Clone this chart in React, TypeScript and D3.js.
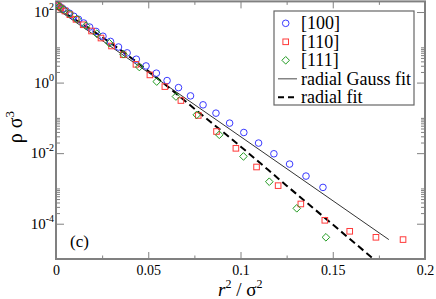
import React, { useEffect, useRef } from 'react';
import * as d3 from 'd3';

// [100] direction
const r2_100 = [0.00015, 0.0006, 0.00136, 0.00241, 0.00376, 0.00542, 0.00738, 0.00964, 0.0122, 0.01506,
  0.01822, 0.02168, 0.02545, 0.02951, 0.03388, 0.03855, 0.04352, 0.0488, 0.0544, 0.0602,
  0.0664, 0.0729, 0.0797, 0.0867, 0.0941, 0.1018, 0.1098, 0.1181, 0.1266, 0.1355, 0.1447];
const rho_100 = [168, 161, 152, 139, 124, 108, 92, 76, 62, 48.7,
  37.5, 28.2, 20.6, 14.7, 10.2, 6.95, 4.6, 2.96, 1.85, 1.14,
  0.72, 0.42, 0.234, 0.136, 0.071, 0.0385, 0.0193, 0.0096, 0.0049, 0.00224, 0.00107];

// [110] direction
const r2_110 = [0.0003, 0.0012, 0.00271, 0.00482, 0.00753, 0.01084, 0.01475, 0.01926, 0.02438, 0.0301,
  0.03642, 0.04334, 0.0509, 0.059, 0.0677, 0.0771, 0.087, 0.0975, 0.1087, 0.1204,
  0.1327, 0.1457, 0.1592, 0.1734, 0.1881];
const rho_110 = [161, 149, 130, 107, 84, 62, 43.6, 29, 18.3, 10.9,
  6.15, 3.29, 1.65, 0.77, 0.31, 0.117, 0.0411, 0.0137, 0.00405, 0.0012,
  0.000363, 0.000125, 6.1e-5, 4.12e-5, 3.55e-5];

// [111] direction
const r2_111 = [0.00045, 0.0018, 0.00406, 0.00723, 0.01129, 0.01626, 0.02213, 0.0289, 0.03658, 0.04516,
  0.0546, 0.065, 0.0763, 0.0885, 0.1016, 0.1156, 0.1305, 0.1463];
const rho_111 = [160, 143, 118, 90, 63.7, 41.2, 24.3, 13.1, 6.35, 2.76,
  1.067, 0.402, 0.122, 0.0331, 0.00807, 0.00155, 0.000273, 4.12e-5];

// fit curves
const gaussR2 = [0, 0.1804];
const gaussRho = [126, 3.55e-5];
const radialR2 = [0, 0.025, 0.05, 0.075, 0.1, 0.125, 0.15, 0.1721];
const radialRho = [132, 19.5, 2.14, 0.182, 0.0155, 0.0012, 9.5e-5, 1.0e-5];

const xMajor = [0, 0.05, 0.1, 0.15, 0.2];
const xMinor = [0.025, 0.075, 0.125, 0.175];
const yMajor = [1e2, 1e0, 1e-2, 1e-4];
const yExp = ['2', '0', '-2', '-4'];
const yMinor = [2, 3, 4, 5, 6, 7, 8, 9, 10, 0.02, 0.03, 0.04, 0.05, 0.06, 0.07, 0.08, 0.09, 0.1,
  0.0002, 0.0003, 0.0004, 0.0005, 0.0006, 0.0007, 0.0008, 0.0009, 0.001];

const legendLabels = ['[100]', '[110]', '[111]', 'radial Gauss fit', 'radial fit'];

const FONT = 'Liberation Serif, DejaVu Serif, serif';
const BLUE = '#3a3aff';
const RED = '#ff3a3a';
const GREEN = '#1f9a1f';
const AXIS = '#808080';

export default function App() {
  const svgRef = useRef<SVGSVGElement>(null);

  useEffect(() => {
    if (!svgRef.current) return;
    const svg = d3.select(svgRef.current);
    svg.selectAll('*').remove();
    svg.attr('font-family', FONT);

    const left = 56, right = 425, top = 1.4, bottom = 259;
    const x = d3.scaleLinear().domain([0, 0.2]).range([left, right]);
    const y = d3.scaleLog().domain([1e-5, 200]).range([bottom, top]);

    svg.append('defs').append('clipPath').attr('id', 'plotclip')
      .append('rect').attr('x', left).attr('y', top).attr('width', right - left).attr('height', bottom - top);

    // ticks (inward)
    const styleAxis = (g: any) => {
      g.attr('font-family', FONT).attr('font-size', 14);
      g.select('.domain').remove();
      g.selectAll('line').attr('stroke', AXIS).attr('stroke-width', 1);
      g.selectAll('text').attr('fill', '#000');
    };
    svg.append('g').attr('transform', `translate(0,${bottom})`)
      .call(d3.axisBottom(x).tickValues(xMajor).tickSize(-7).tickPadding(6)
        .tickFormat((d: any) => String(d)))
      .call(styleAxis);
    svg.append('g').attr('transform', `translate(0,${bottom})`)
      .call(d3.axisBottom(x).tickValues(xMinor).tickSize(-3.5).tickFormat(() => ''))
      .call(styleAxis);
    svg.append('g').attr('transform', `translate(0,${top})`)
      .call(d3.axisTop(x).tickValues(xMajor).tickSize(-7).tickFormat(() => ''))
      .call(styleAxis);
    svg.append('g').attr('transform', `translate(0,${top})`)
      .call(d3.axisTop(x).tickValues(xMinor).tickSize(-3.5).tickFormat(() => ''))
      .call(styleAxis);
    svg.append('g').attr('transform', `translate(${left},0)`)
      .call(d3.axisLeft(y).tickValues(yMajor).tickSize(-8).tickFormat(() => ''))
      .call(styleAxis);
    svg.append('g').attr('transform', `translate(${left},0)`)
      .call(d3.axisLeft(y).tickValues(yMinor).tickSize(-4).tickFormat(() => ''))
      .call(styleAxis);
    svg.append('g').attr('transform', `translate(${right},0)`)
      .call(d3.axisRight(y).tickValues(yMajor).tickSize(-8).tickFormat(() => ''))
      .call(styleAxis);
    svg.append('g').attr('transform', `translate(${right},0)`)
      .call(d3.axisRight(y).tickValues(yMinor).tickSize(-4).tickFormat(() => ''))
      .call(styleAxis);

    // y labels 10^n
    yMajor.forEach((v, i) => {
      const t = svg.append('text')
        .attr('x', 54).attr('y', y(v) + 5)
        .attr('text-anchor', 'end')
        .attr('font-size', 15)
        .text('10');
      t.append('tspan').attr('dy', -7).attr('font-size', 10).text(yExp[i]);
    });

    // frame
    svg.append('rect').attr('x', left).attr('y', top)
      .attr('width', right - left).attr('height', bottom - top)
      .attr('fill', 'none').attr('stroke', AXIS).attr('stroke-width', 2);

    const plot = svg.append('g').attr('clip-path', 'url(#plotclip)');

    // fits
    const gaussLine = d3.line<number>().x((d, i) => x(gaussR2[i])).y(d => y(d));
    plot.append('path').attr('d', gaussLine(gaussRho))
      .attr('fill', 'none').attr('stroke', '#333').attr('stroke-width', 1);
    const radialLine = d3.line<number>().x((d, i) => x(radialR2[i])).y(d => y(d)).curve(d3.curveMonotoneX);
    plot.append('path').attr('d', radialLine(radialRho))
      .attr('fill', 'none').attr('stroke', '#000').attr('stroke-width', 2)
      .attr('stroke-dasharray', '7,4');

    // markers
    const diamond = (cx: number, cy: number, s: number) =>
      `M${cx},${cy - s}L${cx + s},${cy}L${cx},${cy + s}L${cx - s},${cy}Z`;

    plot.append('g').selectAll('circle').data(rho_100).join('circle')
      .attr('cx', (d, i) => x(r2_100[i])).attr('cy', d => y(d)).attr('r', 3.3)
      .attr('fill', 'none').attr('stroke', BLUE).attr('stroke-width', 1);
    plot.append('g').selectAll('rect').data(rho_110).join('rect')
      .attr('x', (d, i) => x(r2_110[i]) - 2.8).attr('y', d => y(d) - 2.8)
      .attr('width', 5.6).attr('height', 5.6)
      .attr('fill', 'none').attr('stroke', RED).attr('stroke-width', 1);
    plot.append('g').selectAll('path').data(rho_111).join('path')
      .attr('d', (d, i) => diamond(x(r2_111[i]), y(d), 3.8))
      .attr('fill', 'none').attr('stroke', GREEN).attr('stroke-width', 1);

    // legend
    const lg = svg.append('g');
    lg.append('rect').attr('x', 274).attr('y', 11).attr('width', 140).attr('height', 94)
      .attr('fill', '#fff').attr('stroke', '#666').attr('stroke-width', 1.2);
    const rowY = (i: number) => 23.3 + i * 18.5;
    legendLabels.forEach((lab, i) => {
      lg.append('text').attr('x', 301).attr('y', rowY(i) + 6)
        .attr('font-size', 18).text(lab);
    });
    lg.append('circle').attr('cx', 285.7).attr('cy', rowY(0)).attr('r', 3.3)
      .attr('fill', 'none').attr('stroke', BLUE);
    lg.append('rect').attr('x', 285.7 - 2.8).attr('y', rowY(1) - 2.8).attr('width', 5.6).attr('height', 5.6)
      .attr('fill', 'none').attr('stroke', RED);
    lg.append('path').attr('d', diamond(285.7, rowY(2), 3.8)).attr('fill', 'none').attr('stroke', GREEN);
    lg.append('line').attr('x1', 278).attr('x2', 297).attr('y1', rowY(3)).attr('y2', rowY(3))
      .attr('stroke', '#666').attr('stroke-width', 1.2);
    lg.append('line').attr('x1', 278).attr('x2', 297).attr('y1', rowY(4)).attr('y2', rowY(4))
      .attr('stroke', '#000').attr('stroke-width', 2).attr('stroke-dasharray', '6,4');

    // panel tag
    svg.append('text').attr('x', 70).attr('y', 247)
      .attr('font-size', 17).text('(c)');

    // axis titles
    const yt = svg.append('text')
      .attr('transform', 'translate(22,127) rotate(-90)')
      .attr('text-anchor', 'middle')
      .attr('font-size', 20)
      .text('ρ σ');
    yt.append('tspan').attr('dy', -8).attr('font-size', 13).text('3');

    const xt = svg.append('text').attr('x', 218).attr('y', 296)
      .attr('font-size', 19);
    xt.append('tspan').attr('font-style', 'italic').text('r');
    xt.append('tspan').attr('dy', -8).attr('font-size', 12).text('2');
    xt.append('tspan').attr('dy', 8).text(' / σ');
    xt.append('tspan').attr('dy', -8).attr('font-size', 12).text('2');
  }, []);

  return (
    <svg ref={svgRef} width={436} height={299}
      style={{ position: 'absolute', left: 0, top: 0, background: '#fff' }} />
  );
}
